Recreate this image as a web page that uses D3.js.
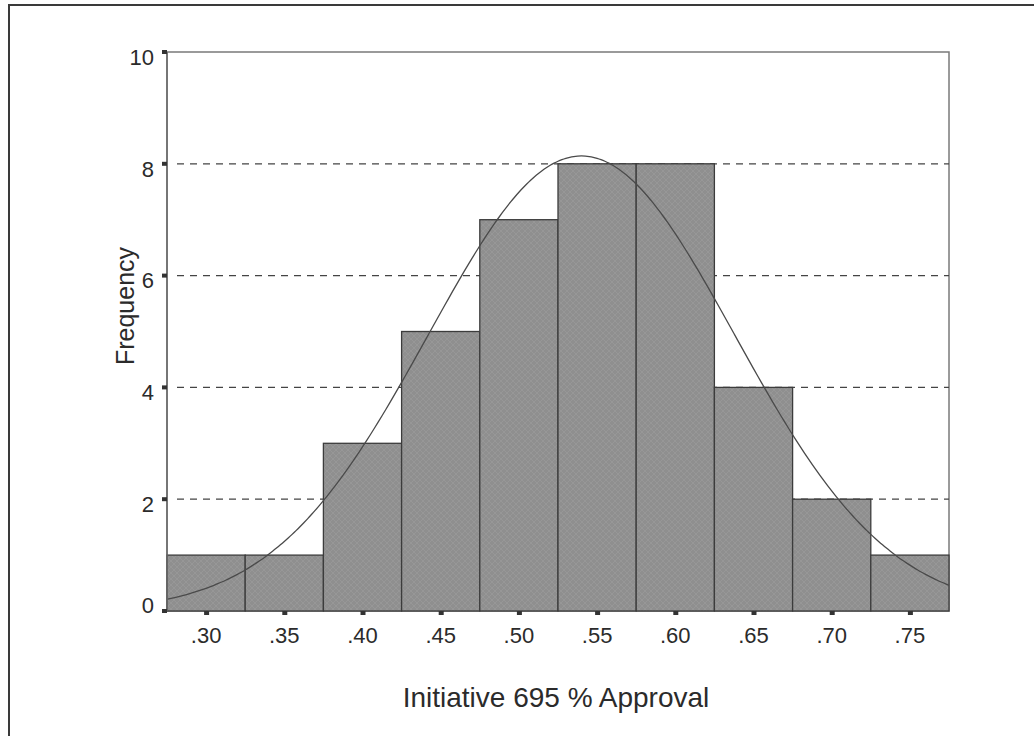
<!DOCTYPE html>
<html lang="en">
  <head>
    <meta charset="utf-8" />
    <title>Initiative 695 % Approval</title>
    <style>
      body {
        margin: 0;
        background: #ffffff;
      }
      text {
        font-family: "Liberation Sans", Arial, sans-serif;
        fill: #2b2b2b;
      }
    </style>
  </head>
  <body>
    <script src="https://d3js.org/d3.v7.min.js"></script>
    <script>
      // bin centres (approval share) and counts
      var binCenters = [0.3, 0.35, 0.4, 0.45, 0.5, 0.55, 0.6, 0.65, 0.7, 0.75];
      var counts = [1, 1, 3, 5, 7, 8, 8, 4, 2, 1];
      var binWidth = 0.05;
      var xTicks = [0.3, 0.35, 0.4, 0.45, 0.5, 0.55, 0.6, 0.65, 0.7, 0.75];
      var yTicks = [0, 2, 4, 6, 8, 10];
      var gridValues = [2, 4, 6, 8];
      // fitted normal curve parameters (as shown by the overlay)
      var fitMean = 0.54;
      var fitSd = 0.098;
      var fitN = 40;

      var width = 1034,
        height = 736;
      var plot = { left: 167, right: 949, top: 52, bottom: 611 };

      var svg = d3
        .select("body")
        .append("svg")
        .attr("width", width)
        .attr("height", height);

      // outer frame (only top and left edges are on the page)
      svg
        .append("rect")
        .attr("x", 9)
        .attr("y", 5)
        .attr("width", 1100)
        .attr("height", 800)
        .style("fill", "none")
        .style("stroke", "#3a3a3a")
        .style("stroke-width", 2);

      var x = d3
        .scaleLinear()
        .domain([0.275, 0.775])
        .range([plot.left, plot.right]);
      var y = d3.scaleLinear().domain([0, 10]).range([plot.bottom, plot.top]);

      // crosshatch texture for the bars
      var pattern = svg
        .append("defs")
        .append("pattern")
        .attr("id", "hatch")
        .attr("patternUnits", "userSpaceOnUse")
        .attr("width", 6)
        .attr("height", 6);
      pattern
        .append("rect")
        .attr("width", 6)
        .attr("height", 6)
        .style("fill", "#8f8f8f");
      pattern
        .append("path")
        .attr("d", "M0,0L6,6M6,0L0,6")
        .style("stroke", "#999999")
        .style("stroke-width", 0.8);

      // plot frame
      svg
        .append("rect")
        .attr("x", plot.left)
        .attr("y", plot.top)
        .attr("width", plot.right - plot.left)
        .attr("height", plot.bottom - plot.top)
        .style("fill", "none")
        .style("stroke", "#7a7a7a")
        .style("stroke-width", 1.5);

      // dashed gridlines
      svg
        .selectAll(".grid")
        .data(gridValues)
        .enter()
        .append("line")
        .attr("class", "grid")
        .attr("x1", plot.left + 10)
        .attr("x2", plot.right)
        .attr("y1", function (d) {
          return y(d);
        })
        .attr("y2", function (d) {
          return y(d);
        })
        .style("stroke", "#444")
        .style("stroke-width", 1.2)
        .style("stroke-dasharray", "7,6");

      // bars
      svg
        .selectAll(".bar")
        .data(binCenters)
        .enter()
        .append("rect")
        .attr("class", "bar")
        .attr("x", function (d) {
          return x(d - binWidth / 2);
        })
        .attr("width", function (d) {
          return x(d + binWidth / 2) - x(d - binWidth / 2);
        })
        .attr("y", function (d, i) {
          return y(counts[i]);
        })
        .attr("height", function (d, i) {
          return y(0) - y(counts[i]);
        })
        .style("fill", "url(#hatch)")
        .style("stroke", "#3c3c3c")
        .style("stroke-width", 1.3);

      // normal curve overlay
      var curveXs = d3.range(0.275, 0.7751, 0.0025);
      var line = d3
        .line()
        .x(function (d) {
          return x(d);
        })
        .y(function (d) {
          var z = (d - fitMean) / fitSd;
          var dens = Math.exp(-0.5 * z * z) / (fitSd * Math.sqrt(2 * Math.PI));
          return y(fitN * binWidth * dens);
        })
        .curve(d3.curveBasis);
      svg
        .append("path")
        .datum(curveXs)
        .attr("d", line)
        .style("fill", "none")
        .style("stroke", "#4a4a4a")
        .style("stroke-width", 1.3);

      // left axis line
      svg
        .append("line")
        .attr("x1", plot.left)
        .attr("x2", plot.left)
        .attr("y1", plot.top)
        .attr("y2", plot.bottom)
        .style("stroke", "#6a6a6a")
        .style("stroke-width", 1.5);

      // y ticks and labels
      svg
        .selectAll(".ytick")
        .data(yTicks)
        .enter()
        .append("rect")
        .attr("class", "ytick")
        .attr("x", plot.left - 5)
        .attr("y", function (d) {
          return y(d) - 2;
        })
        .attr("width", 5)
        .attr("height", 4)
        .style("fill", "#333");
      svg
        .selectAll(".ylabel")
        .data(yTicks)
        .enter()
        .append("text")
        .attr("class", "ylabel")
        .attr("x", 154)
        .attr("y", function (d) {
          return d === 0 ? y(d) - 6 : y(d) + 5;
        })
        .attr("dy", ".35em")
        .style("text-anchor", "end")
        .style("font-size", "22px")
        .text(function (d) {
          return d;
        });

      // x ticks and labels
      svg
        .selectAll(".xtick")
        .data(xTicks)
        .enter()
        .append("rect")
        .attr("class", "xtick")
        .attr("x", function (d) {
          return x(d) - 2;
        })
        .attr("y", plot.bottom)
        .attr("width", 5)
        .attr("height", 4)
        .style("fill", "#333");
      svg
        .selectAll(".xlabel")
        .data(xTicks)
        .enter()
        .append("text")
        .attr("class", "xlabel")
        .attr("x", function (d) {
          return x(d);
        })
        .attr("y", 643)
        .style("text-anchor", "middle")
        .style("font-size", "22px")
        .text(function (d) {
          return d3.format(".2f")(d).replace(/^0/, "");
        });

      // axis titles
      svg
        .append("text")
        .attr("transform", "translate(134,306) rotate(-90)")
        .style("text-anchor", "middle")
        .style("font-size", "25px")
        .text("Frequency");

      svg
        .append("text")
        .attr("x", 556)
        .attr("y", 707)
        .style("text-anchor", "middle")
        .style("font-size", "28px")
        .text("Initiative 695 % Approval");
    </script>
  </body>
</html>
